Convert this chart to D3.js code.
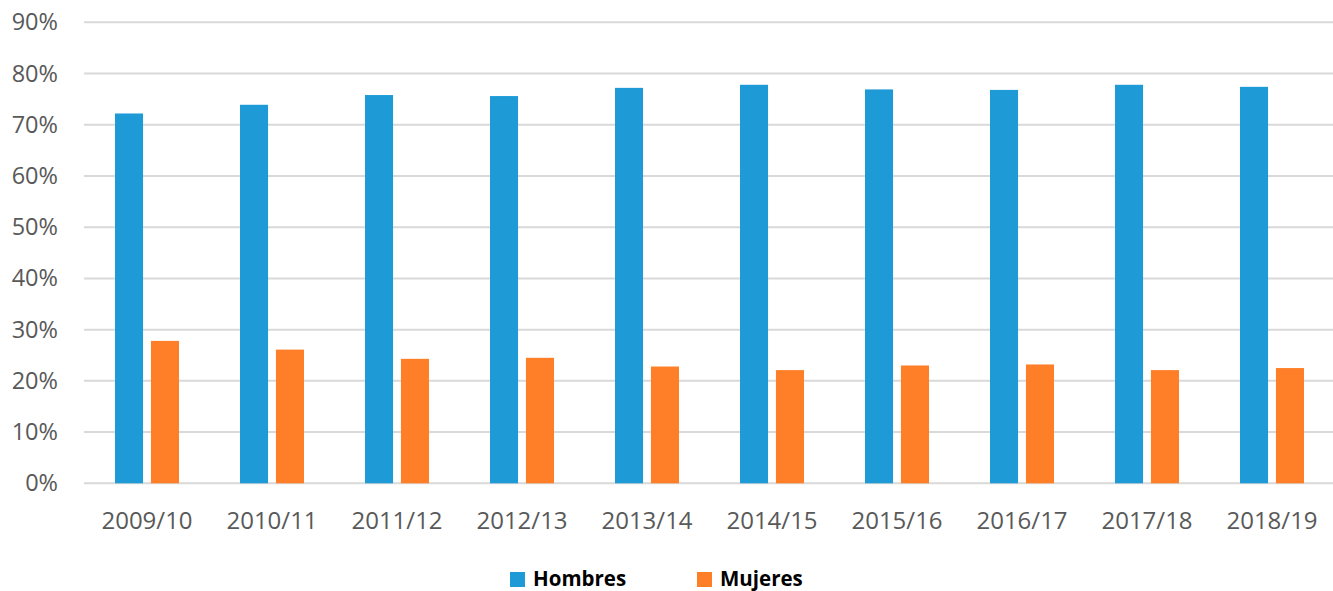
<!DOCTYPE html>
<html><head><meta charset="utf-8">
<script src="https://cdn.jsdelivr.net/npm/d3@7"></script>
<style>body{margin:0;background:#fff}svg{display:block}</style>
</head><body>
<svg id="chart" width="1333" height="591"></svg>
<script>
const categories = ["2009/10","2010/11","2011/12","2012/13","2013/14","2014/15","2015/16","2016/17","2017/18","2018/19"];
const hombres = [72.2, 73.9, 75.8, 75.6, 77.2, 77.8, 76.9, 76.8, 77.8, 77.4];
const mujeres = [27.8, 26.1, 24.3, 24.5, 22.8, 22.1, 23.0, 23.2, 22.1, 22.5];
const seriesNames = ["Hombres","Mujeres"];
const colors = ["#1e9bd7","#fe7f27"];
const yTicks = [0,10,20,30,40,50,60,70,80,90];

const svg = d3.select("#chart");
const x = d3.scaleBand().domain(categories).range([84.5, 1334.5]).paddingInner(0).paddingOuter(0);
const y = d3.scaleLinear().domain([0, 90]).range([483.3, 22.3]);
const xs = d3.scaleBand().domain(seriesNames).range([x.bandwidth()/2 - 32, x.bandwidth()/2 + 32]).paddingInner(0.22);

// gridlines
svg.append("g").selectAll("line").data(yTicks).join("line")
  .attr("x1", 84).attr("x2", 1333)
  .attr("y1", d => y(d)).attr("y2", d => y(d))
  .attr("stroke", "#d9d9d9").attr("stroke-width", 2);

// y labels
const yAxis = d3.axisLeft(y).tickValues(yTicks).tickFormat(d => d + "%").tickSize(0).tickPadding(0);
const gy = svg.append("g").attr("transform", "translate(58,0)").call(yAxis);
gy.select(".domain").remove();
gy.selectAll("text").attr("font-family", "'Open Sans', sans-serif").attr("font-size", 23.5).attr("fill", "#595959");

// bars
const data = categories.map((c, i) => ({c, vals: [hombres[i], mujeres[i]]}));
const groups = svg.append("g").selectAll("g").data(data).join("g")
  .attr("transform", d => `translate(${x(d.c)},0)`);
groups.selectAll("rect").data(d => d.vals.map((v, j) => ({v, s: seriesNames[j], j}))).join("rect")
  .attr("x", d => xs(d.s)).attr("width", xs.bandwidth())
  .attr("y", d => y(d.v)).attr("height", d => y(0) - y(d.v))
  .attr("fill", d => colors[d.j]);

// x labels
const xAxis = d3.axisBottom(x).tickSize(0).tickPadding(0);
const gx = svg.append("g").attr("transform", "translate(0,528.5)").call(xAxis);
gx.select(".domain").remove();
gx.selectAll("text").attr("dy", 0).attr("font-family", "'Open Sans', sans-serif").attr("font-size", 24).attr("fill", "#595959");

// legend
const legX = [510, 697];
const leg = svg.append("g").selectAll("g").data(seriesNames).join("g")
  .attr("transform", (d, i) => `translate(${legX[i]},0)`);
leg.append("rect").attr("x", 0).attr("y", 572).attr("width", 15).attr("height", 15).attr("fill", (d, i) => colors[i]);
leg.append("text").attr("x", 23).attr("y", 586).text(d => d)
  .attr("font-family", "'Open Sans', sans-serif").attr("font-weight", "bold").attr("font-size", 20.5).attr("fill", "#000");
</script>
</body></html>
